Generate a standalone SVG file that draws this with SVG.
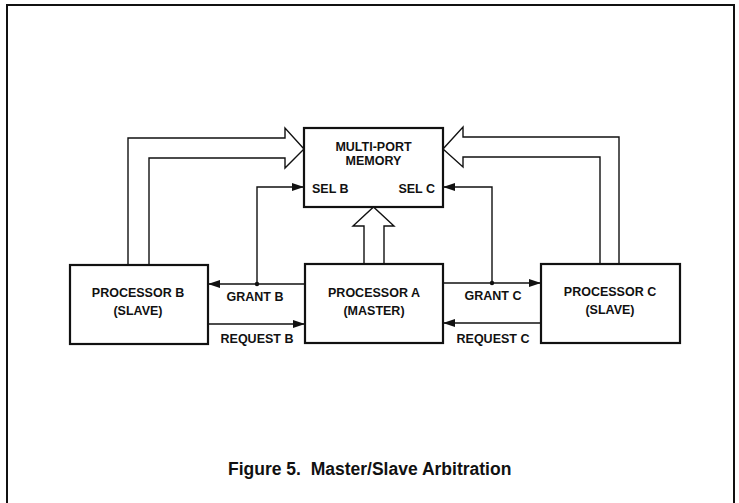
<svg xmlns="http://www.w3.org/2000/svg" width="739" height="503" viewBox="0 0 739 503">
<style>
.box{fill:#fff;stroke:#111;stroke-width:2.2}
.ln{fill:none;stroke:#111;stroke-width:1.4}
.bus{fill:#fff;stroke:#111;stroke-width:1.4;stroke-linejoin:miter}
text{font-family:"Liberation Sans",Arial,sans-serif;font-weight:bold;fill:#111;font-size:12.5px;text-anchor:middle}
</style>
<defs>
<marker id="ah" viewBox="0 0 12 8" refX="12" refY="4" markerWidth="12" markerHeight="8" markerUnits="userSpaceOnUse" orient="auto">
<path d="M0,0 L12,4 L0,8 Z" fill="#111"/>
</marker>
</defs>
<rect x="7" y="5" width="727" height="510" fill="none" stroke="#111" stroke-width="2"/>
<g id="connectors">
<path class="bus" d="M128,264 V138 H285 V128 L304,149 L285,168 V158 H149 V264"/>
<path class="bus" d="M619,263 V137 H463 V127 L443,149 L463,167 V157 H600 V263"/>
<path class="bus" d="M364,264 V226 H353 L373.5,207 L394,226 H384 V264"/>
<path class="ln" d="M257,284 V187 H304" marker-end="url(#ah)"/>
<path class="ln" d="M492,283 V187 H443" marker-end="url(#ah)"/>
<path class="ln" d="M305,284 H208" marker-end="url(#ah)"/>
<path class="ln" d="M443,283 H541" marker-end="url(#ah)"/>
<path class="ln" d="M208,324 H305" marker-end="url(#ah)"/>
<path class="ln" d="M541,323 H443" marker-end="url(#ah)"/>
<circle cx="257" cy="284" r="2.2" fill="#111"/>
<circle cx="492" cy="283" r="2.2" fill="#111"/>
<text x="255" y="301">GRANT B</text>
<text x="257" y="343">REQUEST B</text>
<text x="493" y="300">GRANT C</text>
<text x="493" y="343">REQUEST C</text>
</g>
<g id="memory">
<rect class="box" x="304" y="128" width="139" height="79"/>
<text x="373.5" y="151">MULTI-PORT</text>
<text x="373.5" y="165">MEMORY</text>
<text x="312" y="193" style="text-anchor:start">SEL B</text>
<text x="435" y="193" style="text-anchor:end">SEL C</text>
</g>
<g id="procB">
<rect class="box" x="70" y="265" width="138" height="79"/>
<text x="138" y="297">PROCESSOR B</text>
<text x="138" y="315">(SLAVE)</text>
</g>
<g id="procA">
<rect class="box" x="305" y="264" width="138" height="79"/>
<text x="374" y="297">PROCESSOR A</text>
<text x="374" y="315">(MASTER)</text>
</g>
<g id="procC">
<rect class="box" x="541" y="264" width="139" height="79"/>
<text x="610" y="296">PROCESSOR C</text>
<text x="610" y="314">(SLAVE)</text>
</g>
<text x="228" y="475" style="text-anchor:start;font-size:17.5px">Figure 5.&#160; Master/Slave Arbitration</text>
</svg>
